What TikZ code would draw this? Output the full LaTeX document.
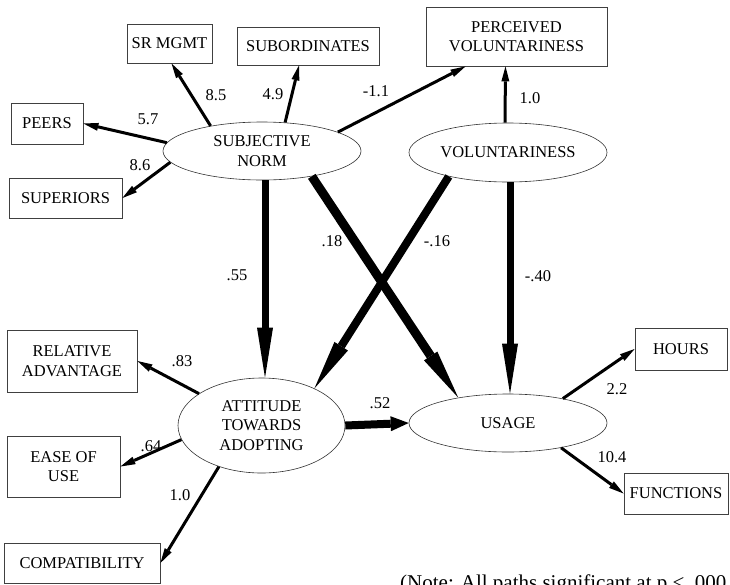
\documentclass[tikz,border=0pt]{standalone}
\usepackage{fontspec}
\setmainfont{Liberation Serif}
\usetikzlibrary{arrows.meta,shapes.geometric}
\begin{document}
\begin{tikzpicture}[x=1pt,y=-1pt,
  every node/.style={font=\fontsize{16.5}{19.5}\selectfont},
  obs/.style={draw=black!75, line width=0.8pt, rectangle, inner sep=0pt, align=center},
  lat/.style={draw=black!80, line width=0.6pt, ellipse, inner sep=0pt, align=center},
  thinarr/.style={line width=3pt, -{Triangle[length=15pt,width=8pt,line width=0pt]}},
  thickarr/.style={-{Triangle[length=50pt,width=16pt,line width=0pt]}},
  lbl/.style={inner sep=0pt}
]
\useasboundingbox (0,0) rectangle (730,584);

% latent variables
\node[lat, minimum width=198pt, minimum height=58pt] (sn) at (262,151) {SUBJECTIVE\\NORM};
\node[lat, minimum width=198pt, minimum height=59pt] (vol) at (508,152.5) {VOLUNTARINESS};
\node[lat, minimum width=167pt, minimum height=95pt] (att) at (261.5,425.5) {ATTITUDE\\TOWARDS\\ADOPTING};
\node[lat, minimum width=198pt, minimum height=58pt] (usage) at (508,423) {USAGE};

% observed variables
\node[obs, minimum width=85pt, minimum height=39pt] (srm) at (169.5,43.5) {SR MGMT};
\node[obs, minimum width=142pt, minimum height=38pt] (sub) at (308,46) {SUBORDINATES};
\node[obs, minimum width=181pt, minimum height=59pt] (perc) at (516.5,36.5) {PERCEIVED\\VOLUNTARINESS};
\node[obs, minimum width=72pt, minimum height=41pt] (peers) at (47,123.5) {PEERS};
\node[obs, minimum width=113pt, minimum height=40pt] (sup) at (65.5,198) {SUPERIORS};
\node[obs, minimum width=130pt, minimum height=62pt] (rel) at (72,361) {RELATIVE\\ADVANTAGE};
\node[obs, minimum width=113pt, minimum height=61pt] (ease) at (63.5,466.5) {EASE OF\\USE};
\node[obs, minimum width=156pt, minimum height=40pt] (comp) at (82,563) {COMPATIBILITY};
\node[obs, minimum width=92pt, minimum height=42pt] (hours) at (681,349) {HOURS};
\node[obs, minimum width=104pt, minimum height=41pt] (func) at (676,493.5) {FUNCTIONS};

% thin arrows
\draw[thinarr] (sn.175) -- (peers.east);
\draw[thinarr] (sn.187) -- (sup.east);
\draw[thinarr] (sn.154) -- ([xshift=2pt]srm.south);
\draw[thinarr] (sn.51) -- ([xshift=-9pt]sub.south);
\draw[thinarr] (sn.14) -- ([xshift=-51pt]perc.south);
\draw[thinarr] ([xshift=-3pt]vol.north) -- ([xshift=-11pt]perc.south);
\draw[thinarr] (att.153) -- (rel.east);
\draw[thinarr] (att.190) -- (ease.east);
\draw[thinarr] (att.224) -- (comp.east);
\draw[thinarr] (usage.24) -- (hours.west);
\draw[thinarr] (usage.-25) -- (func.west);

% thick arrows
\draw[line width=7pt, thickarr] ([xshift=3pt]sn.south) -- ([xshift=3.5pt]att.north);
\draw[line width=9pt, thickarr] (sn.-27) -- (usage.153);
\draw[line width=8pt, thickarr] (vol.202) -- (att.35);
\draw[line width=7pt, thickarr] ([xshift=2pt]vol.south) -- ([xshift=2pt]usage.north);
\draw[line width=8pt, -{Triangle[length=18pt,width=15pt,line width=0pt]}] (att.east) -- (usage.west);

% labels
\node[lbl] (l57) at (148,119) {5.7};
\node[lbl] (l86) at (140,165) {8.6};
\node[lbl] (l85) at (216,95) {8.5};
\node[lbl] (l49) at (273,94) {4.9};
\node[lbl] (l11) at (376,91) {-1.1};
\node[lbl] (l10a) at (530,98) {1.0};
\node[lbl] (l55) at (237,275) {.55};
\node[lbl] (l18) at (332,241) {.18};
\node[lbl] (l16) at (437,241) {-.16};
\node[lbl] (l40) at (538,276) {-.40};
\node[lbl] (l52) at (380,403) {.52};
\node[lbl] (l83) at (182,361) {.83};
\node[lbl] (l64) at (151,446) {.64};
\node[lbl] (l10b) at (180,495) {1.0};
\node[lbl] (l22) at (617,389) {2.2};
\node[lbl] (l104) at (612,457) {10.4};

\node[lbl, anchor=base west, font=\fontsize{21}{24}\selectfont] (note) at (400,589) {(Note: All paths significant at p < .000};
\end{tikzpicture}
\end{document}
